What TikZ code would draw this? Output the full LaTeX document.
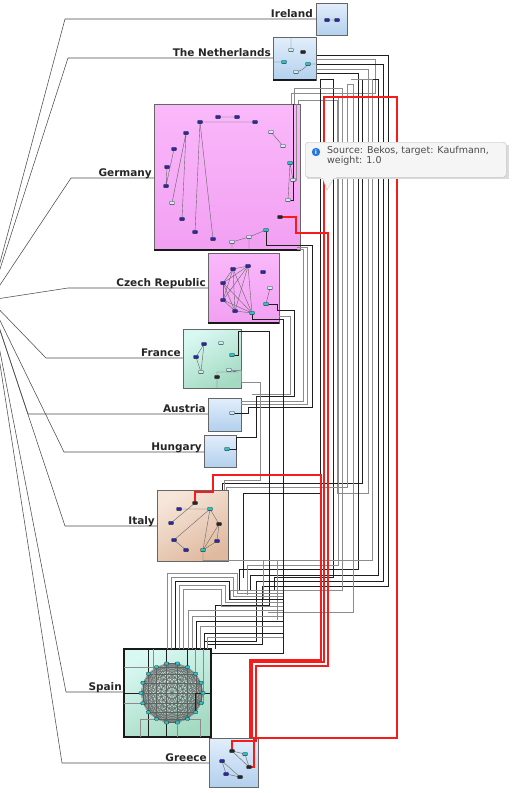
\documentclass[tikz,border=0pt]{standalone}
\usepackage{fontspec}
\setmainfont{DejaVu Sans}
\usetikzlibrary{calc,shadows}

\definecolor{blueTop}{RGB}{226,238,250}
\definecolor{blueBot}{RGB}{178,208,238}
\definecolor{pinkTop}{RGB}{250,184,250}
\definecolor{pinkBot}{RGB}{242,160,242}
\definecolor{mintTop}{RGB}{216,248,242}
\definecolor{mintBot}{RGB}{164,218,194}
\definecolor{peachTop}{RGB}{246,230,218}
\definecolor{peachBot}{RGB}{224,186,160}
\definecolor{nodeblue}{RGB}{40,40,170}
\definecolor{nodecyan}{RGB}{40,196,206}
\definecolor{nodepale}{RGB}{200,236,244}
\definecolor{wirered}{RGB}{246,28,28}
\definecolor{tipblue}{RGB}{40,120,220}

\tikzset{
  cbox/.style={draw=black!60, line width=0.8pt, inner sep=0pt, outer sep=0pt,
    anchor=north west, drop shadow={shadow xshift=0.9pt, shadow yshift=-1.1pt, fill=black!75}},
  blueBox/.style={top color=blueTop, bottom color=blueBot},
  pinkBox/.style={top color=pinkTop, bottom color=pinkBot},
  mintBox/.style={top color=mintTop, bottom color=mintBot, shading angle=30},
  peachBox/.style={top color=peachTop, bottom color=peachBot, shading angle=30},
  clabel/.style={anchor=base east, inner sep=0pt, text=black!85,
    font=\bfseries\fontsize{10.5}{12}\selectfont},
  leader/.style={draw=black!70, line width=0.55pt},
  wire/.style={draw=black!45, line width=0.8pt},
  wiredark/.style={draw=black!88, line width=0.8pt},
  redwire/.style={draw=wirered, line width=1.2pt,
    preaction={draw=wirered!30, line width=2.8pt}},
  gedge/.style={draw=black!60, line width=0.4pt},
  gnode/.style={draw=black!80, line width=0.3pt, rounded corners=0.8pt,
    minimum width=5pt, minimum height=3.2pt, inner sep=0pt},
  nb/.style={gnode, fill=nodeblue},
  nc/.style={gnode, fill=nodecyan},
  nw/.style={gnode, fill=nodepale},
  nk/.style={gnode, fill=black!85},
}

\begin{document}
\begin{tikzpicture}[x=1pt, y=-1pt]
  \fill[white] (0,0) rectangle (512,793);
  \useasboundingbox (0,0) rectangle (512,793);
  \clip (0,0) rectangle (512,793);

  % Country boxes
  \node[cbox, blueBox, minimum width=31pt, minimum height=32pt] (ire) at (316,3) {};
  \node[cbox, blueBox, minimum width=43pt, minimum height=43pt] (net) at (273,37) {};
  \node[cbox, pinkBox, minimum width=146pt, minimum height=146pt] (ger) at (154,104) {};
  \node[cbox, pinkBox, minimum width=71pt, minimum height=70pt] (cze) at (208,253) {};
  \node[cbox, mintBox, minimum width=58pt, minimum height=59pt] (fra) at (183,329) {};
  \node[cbox, blueBox, minimum width=33pt, minimum height=33pt] (aus) at (208,398) {};
  \node[cbox, blueBox, minimum width=32pt, minimum height=32pt] (hun) at (204,435) {};
  \node[cbox, peachBox, minimum width=71pt, minimum height=71pt] (ita) at (157,490) {};
  \node[cbox, mintBox, minimum width=87pt, minimum height=88pt,
    draw=black!90, line width=1.4pt] (spa) at (124,649) {};
  \node[cbox, blueBox, minimum width=49pt, minimum height=49pt] (gre) at (209,738) {};
  \draw[black!90, line width=1.5pt] (ger.south west) -- (ger.south east)
    (net.south west) -- (net.south east) (cze.south west) -- (cze.south east);

  % Labels and their leader lines
  \coordinate (hub) at (-10,300);
  \draw[leader] (hub) -- (65,19) -- (ire.west |- 0,19);
  \draw[leader] (hub) -- (68,58) -- (net.west |- 0,58);
  \draw[leader] (hub) -- (71,178) -- (ger.west |- 0,178);
  \draw[leader] (hub) -- (68,288) -- (cze.west |- 0,288);
  \draw[leader] (hub) -- (46,358) -- (fra.west |- 0,358);
  \draw[leader] (hub) -- (28,414) -- (aus.west |- 0,414);
  \draw[leader] (hub) -- (64,452) -- (hun.west |- 0,452);
  \draw[leader] (hub) -- (65,526) -- (ita.west |- 0,526);
  \draw[leader] (hub) -- (66,692) -- (spa.west |- 0,692);
  \draw[leader] (hub) -- (62,763) -- (gre.west |- 0,763);
  \node[clabel] (ireL) at (313,17.5) {Ireland};
  \node[clabel] (netL) at (271,56.5) {The Netherlands};
  \node[clabel] (gerL) at (152,176.5) {Germany};
  \node[clabel] (czeL) at (206,286.5) {Czech Republic};
  \node[clabel] (fraL) at (181,356.5) {France};
  \node[clabel] (ausL) at (206,412.5) {Austria};
  \node[clabel] (hunL) at (202,450.5) {Hungary};
  \node[clabel] (itaL) at (155,524.5) {Italy};
  \node[clabel] (spaL) at (122,690.5) {Spain};
  \node[clabel] (greL) at (207,761.5) {Greece};

  % Inner graph nodes (placed first, drawn again on top later)
  \foreach \n/\p in {g1/{218,117}, g2/{237,117}, g3/{200,122}, g4/{255,122},
      g5/{271,132}, g6/{283,146}, g7/{186,133}, g8/{174,149}, g9/{167,167},
      g10/{166,186}, g11/{172,203}, g12/{182,219}, g13/{195,232}, g14/{213,239},
      g15/{232,242}, g16/{249,237}, g17/{266,230}, g18/{280,217}, g19/{288,200},
      g20/{293,180}, g21/{290,163},
      c1/{233,269}, c2/{248,266}, c3/{263,272}, c4/{223,283}, c5/{223,300},
      c6/{235,311}, c7/{252,313}, c8/{270,288}, c9/{266,304},
      f1/{204,344}, f2/{221,343}, f3/{196,357}, f4/{201,372}, f5/{232,355},
      f6/{229,370}, f7/{217,377}, a1/{232,413}, h1/{227,449},
      r1/{327,20}, r2/{337,20}, n1/{291,50}, n2/{303,52}, n3/{284,62},
      n4/{296,72}, n5/{308,64},
      i1/{195,503}, i2/{179,509}, i3/{171,523}, i4/{210,509}, i5/{219,524},
      i6/{174,540}, i7/{186,550}, i8/{217,541}, i9/{203,550},
      gr1/{232,751}, gr2/{245,754}, gr3/{249,767}, gr4/{222,761},
      gr5/{226,774}, gr6/{240,777}}
    \coordinate (\n) at (\p);

  % Edges inside the boxes
  \draw[gedge] (g1) -- (g2) (g3) -- (g4) (g3) -- (g13) (g3) -- (g14)
    (g5) -- (g6) (g7) -- (g12) (g7) -- (g11) (g8) -- (g10) (g9) -- (g10)
    (g15) -- (g16) -- (g17) (g19) -- (g21) (g20) -- (g21)
    (g15) -- (g15 |- ger.south) (g16) -- (g16 |- ger.south);
  \foreach \u/\v in {c1/c2, c1/c4, c1/c5, c1/c6, c1/c7, c2/c4, c2/c5, c2/c6,
      c2/c7, c4/c5, c4/c6, c4/c7, c5/c6, c5/c7, c6/c7, c8/c9}
    \draw[gedge] (\u) -- (\v);
  \draw[gedge] (f1) -- (f3) -- (f4) -- (f1) (f7) |- (237,372) -- (f6)
    (f7) -- (f7 |- fra.south) (r1) -- (r2) (n1) -- (n1 |- net.north)
    (n4) to[bend right=20] (n5) (n3) -- (n3 -| net.west) (n5) -- (n5 -| net.east);
  \draw[gedge] (i1) -- (i3) (i4) -- (i6) -- (i7) (i4) -- (i9) (i4) -- (i5)
    (i5) -- (i9) (i5) -- (i8) -- (i9) (i4) -- (i2) (i9) -- (i9 |- ita.south);
  \draw[gedge] (gr1) -- (gr2) (gr1) -- (gr3) (gr2) -- (gr3) (gr4) -- (gr5)
    -- (gr6) -- (gr4);

  % Spain: dense circle
  \foreach \i in {0,...,17}
    \coordinate (s\i) at ($(172,693)+({31*cos(20*\i)},{30*sin(20*\i)})$);
  \foreach \i in {0,...,16} {
    \pgfmathtruncatemacro\k{\i+1}
    \foreach \j in {\k,...,17}
      \draw[draw=black!62, line width=0.3pt] (s\i) -- (s\j);
  }
  \draw[wiredark] (s13) |- (spa.north) (s15) -- (s15 |- spa.north)
    (s11) -- (s11 |- spa.north) (s9) -| (spa.west) (s0) -- (s0 -| spa.east)
    (s2) |- (spa.east) (s5) -- (s5 |- spa.south) (s7) -- (s7 |- spa.south);
  \draw[wire] (s10) -| (153,649) (s8) -- (s8 -| spa.west) (s6) -| (140,737)
    (s4) -- (s4 |- spa.south) (s3) -| (200,737) (s1) -| (203,649)
    (s16) -- (s16 |- spa.north) (s12) -| (124,668);

  % Links out of The Netherlands
  \draw[wiredark] (317,55) -| (388,586) -- (262,586) |- (207,644);
  \draw[wire] (317,59) -| (375,93) -| (291,104);
  \draw[wiredark] (317,64) -| (383,581) -- (256,581) |- (205,641);
  \draw[wire] (317,69) -| (368,493) -| (337,100) -- (298,100) -- (298,104);
  \draw[wiredark] (317,73) -| (358,569) -- (239,569) -- (239,590);
  \draw[wiredark] (243,578) |- (320,493) |- (333,79) -- (333,577) -- (274,577) -- (274,590);
  \draw[wiredark] (222,490) |- (362,483) |- (378,79) -- (378,575) -- (250,575) -- (250,590);
  \draw[wire] (226,490) |- (347,487) -- (347,84) -| (353,612) -- (268,612);
  \draw[wire] (294,104) |- (342,88) -- (342,590) -- (230,590) -- (230,600);
  \draw[wire] (g20) -| (296,104);
  \draw[wiredark] (g19) -| (293,104);
  \draw[wire] (351,79) -- (372,79) -- (372,560) -- (263,560) -- (263,600);
  \draw[wire] (338,96) -- (338,565) -- (247,565) -- (247,595);

  % Links below Germany and Czech Republic
  \draw[wiredark] (g17) |- (312,245) |- (248,407) |- (a1);
  \draw[wire] (ger.south east) ++(-3,-3) -| (307,404) -- (aus.east |- 0,404);
  \draw[wire] (ger.south east) ++(-3,-1) -| (303,401) -- (aus.east |- 0,401);
  \draw[wiredark] (c9) -| (277,310) -- (294,310) |- (256,396) -- (256,437)
    -- (236,437) |- (h1);
  \draw[wire] (cze.east |- 0,316) -- (290,316) -- (290,394) -- (252,394);
  \draw[wiredark] (c7) |- (283,319) -- (283,653) -- (spa.east |- 0,653);
  \draw[wiredark] (f5) -| (238,331) -- (269,331) -- (269,605) -- (215,605)
    -- (215,649);
  \draw[wire] (f6) -| (241,382) -| (260,480) -| (224,490);
  \draw[wire] (i9 |- ita.south) |- (277,560) -- (277,620);

  % Links down into Spain
  \foreach \lx/\ty/\rx/\dy/\c in {167/573/237/593/wire, 171/577/233/596/wire,
      175/581/229/599/wiredark, 179/585/225/602/wire, 183/589/221/606/wire}
    \draw[\c] (\lx,649) |- (\rx,\ty) |- (283,\dy);
  \foreach \lx/\ty/\c in {188/610/wire, 192/616/wire, 196/621/wiredark,
      200/626/wire, 204/633/wiredark, 207/637/wire}
    \draw[\c] (\lx,649) |- (283,\ty);

  % Highlighted edges
  \draw[redwire] (g18) -| (296,233) -| (328,666) -| (256,741) -| (gr1);
  \draw[redwire] (gr3) -| (254,738) -| (397,97) -| (324,662) -| (252,738);
  \draw[redwire] (i1) |- (213,492) |- (321,475) -- (321,660) -| (250,738);

  % Inner graph nodes
  \foreach \n in {g1,g2,g3,g4,g7,g8,g9,g10,g12,g13,g14,c1,c2,c3,c4,c5,c6,
      f1,f3,i2,i3,i6,i7,i8,gr4,gr5,r1,r2}
    \node[nb] at (\n) {};
  \foreach \n in {g17,g21,c7,c9,f5,i4,i9,gr2,n3,n5,h1}
    \node[nc] at (\n) {};
  \foreach \n in {g5,g6,g11,g15,g16,g19,g20,c8,f2,f4,f6,a1,n1,n4}
    \node[nw] at (\n) {};
  \foreach \n in {g18,i1,i5,gr1,gr3,gr6,n2,f7}
    \node[nk] at (\n) {};
  \foreach \i in {0,...,17}
    \node[nc, minimum width=4pt, minimum height=3pt] at (s\i) {};

  % Tooltip
  \fill[black!14] (307,144.5) rectangle (508.5,179);
  \node[draw=black!25, fill=black!4, rounded corners=3pt, anchor=north west,
    minimum width=201pt, minimum height=35pt, inner sep=0pt] (tip) at (305,142) {};
  \filldraw[draw=black!25, fill=black!4] (322,176.5) -- (327,190) -- (335,176.5);
  \fill[black!4] (321,175) rectangle (336,177.5);
  \fill[tipblue] (316,152) circle (4.2);
  \node[text=white, font=\bfseries\fontsize{6}{6}\selectfont, inner sep=0pt]
    (tipI) at (316,152) {i};
  \node[anchor=north west, align=left, inner sep=0pt, text=black!70,
    font=\fontsize{9.5}{10.5}\selectfont] (tipText) at (327,146)
    {Source: Bekos, target: Kaufmann,\\weight: 1.0};
\end{tikzpicture}
\end{document}
